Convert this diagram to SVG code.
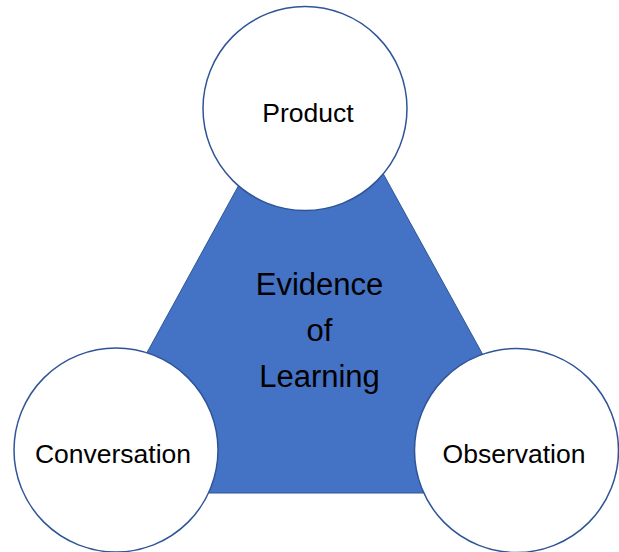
<svg xmlns="http://www.w3.org/2000/svg" width="619" height="552" viewBox="0 0 619 552">
<style>
.c{fill:#fff;stroke:#2F5597;stroke-width:1.5}
.t{font-family:"Liberation Sans",Arial,sans-serif;font-size:26.5px;fill:#000;text-anchor:middle}
.e{font-family:"Liberation Sans",Arial,sans-serif;font-size:31px;fill:#000;text-anchor:middle}
</style>
<rect width="619" height="552" fill="#fff"/>
<g id="evidence">
<polygon points="314,48 70,493 559,493" fill="#4472C4" stroke="#2F5597" stroke-width="1"/>
<text class="e" x="319.5" y="295">Evidence</text>
<text class="e" x="319.5" y="341">of</text>
<text class="e" x="319.5" y="387">Learning</text>
</g>
<g id="connectors"></g>
<g id="product">
<circle class="c" cx="305" cy="108.5" r="102"/>
<text class="t" x="308" y="122">Product</text>
</g>
<g id="conversation">
<circle class="c" cx="116" cy="450" r="102"/>
<text class="t" x="113" y="463">Conversation</text>
</g>
<g id="observation">
<circle class="c" cx="516.5" cy="450.5" r="102"/>
<text class="t" x="514" y="463">Observation</text>
</g>
</svg>
